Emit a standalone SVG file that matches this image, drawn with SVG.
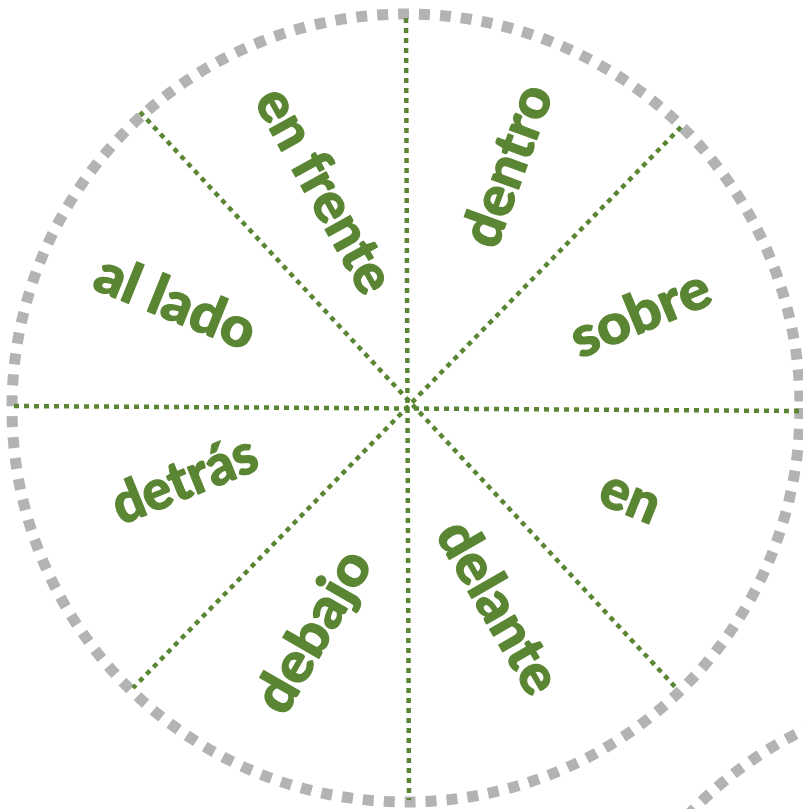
<svg xmlns="http://www.w3.org/2000/svg" width="803" height="809" viewBox="0 0 803 809">
<style>
.rim{fill:none;stroke:#b3b3b3;stroke-width:11;stroke-dasharray:11 10}
.div{stroke:#5a8533;stroke-width:4.5;stroke-dasharray:5 5;fill:none}
.lbl{font-family:Lato,"Open Sans","Liberation Sans",sans-serif;font-weight:900;font-size:56px;fill:#5a8533;stroke:#5a8533;stroke-width:1.2;stroke-linejoin:round;text-anchor:middle}
</style>
<rect width="803" height="809" fill="#ffffff"/>
<g id="wheel">
<circle class="rim" cx="406" cy="408" r="394"/>
<circle class="rim" cx="975" cy="1085" r="394"/>
</g>
<g id="connectors">
<line class="div" x1="406" y1="18" x2="409" y2="800"/>
<line class="div" x1="14" y1="406" x2="800" y2="411"/>
<line class="div" x1="140" y1="112" x2="678" y2="690"/>
<line class="div" x1="681" y1="127" x2="133" y2="688"/>
</g>
<g id="n-dentro"><text class="lbl" transform="translate(509,166) rotate(-70)" y="17" textLength="168" lengthAdjust="spacingAndGlyphs">dentro</text></g>
<g id="n-sobre"><text class="lbl" transform="translate(641,315) rotate(-22.5)" y="17" textLength="146" lengthAdjust="spacingAndGlyphs">sobre</text></g>
<g id="n-en"><text class="lbl" transform="translate(630,498) rotate(22)" y="17" textLength="60" lengthAdjust="spacingAndGlyphs">en</text></g>
<g id="n-delante"><text class="lbl" transform="translate(497,608) rotate(60)" y="17" textLength="190" lengthAdjust="spacingAndGlyphs">delante</text></g>
<g id="n-debajo"><text class="lbl" transform="translate(318,634) rotate(-60)" y="13" textLength="178" lengthAdjust="spacingAndGlyphs">debajo</text></g>
<g id="n-detras"><text class="lbl" transform="translate(185,481) rotate(-22)" y="17" textLength="152" lengthAdjust="spacingAndGlyphs">detrás</text></g>
<g id="n-al-lado"><text class="lbl" transform="translate(175,304) rotate(22)" y="17" textLength="168" lengthAdjust="spacingAndGlyphs">al lado</text></g>
<g id="n-en-frente"><text class="lbl" transform="translate(323,191) rotate(61)" y="17" textLength="226" lengthAdjust="spacingAndGlyphs">en frente</text></g>
</svg>
